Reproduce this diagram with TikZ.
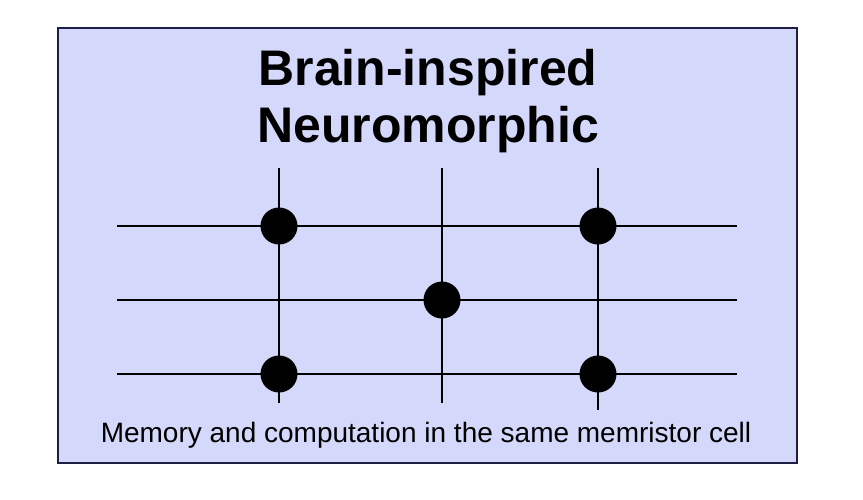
\documentclass[tikz,border=0pt]{standalone}
\usepackage{fontspec}
\setmainfont{Liberation Sans}
\definecolor{bg}{RGB}{212,216,250}
\definecolor{bd}{RGB}{30,30,70}
\begin{document}
\begin{tikzpicture}[x=1pt,y=-1pt,
  wire/.style={line width=2pt,black},
  dot/.style={circle,fill=black,minimum size=37pt,inner sep=0pt}]
\useasboundingbox (0,0) rectangle (863,499);
\draw[fill=bg,draw=bd,line width=1.5pt] (58,28) rectangle (797,463);
\node[font=\fontsize{50}{57}\selectfont\bfseries,align=center] (title) at (428,101) {Brain-inspired\\Neuromorphic};
\foreach \y/\n in {226/h1,300/h2,374/h3}{
  \coordinate (\n a) at (117,\y); \coordinate (\n b) at (737,\y);
  \draw[wire] (\n a) -- (\n b);}
\coordinate (v1a) at (279,168); \coordinate (v1b) at (279,403);
\coordinate (v2a) at (442,168); \coordinate (v2b) at (442,403);
\coordinate (v3a) at (598,168); \coordinate (v3b) at (598,410);
\foreach \n in {v1,v2,v3}{\draw[wire] (\n a) -- (\n b);}
\node[dot] (d1) at (279,226) {};
\node[dot] (d2) at (598,226) {};
\node[dot] (d3) at (442,300) {};
\node[dot] (d4) at (279,374) {};
\node[dot] (d5) at (598,374) {};
\node[font=\fontsize{28}{33}\selectfont] (cap) at (426,435) {Memory and computation in the same memristor cell};
\end{tikzpicture}
\end{document}
